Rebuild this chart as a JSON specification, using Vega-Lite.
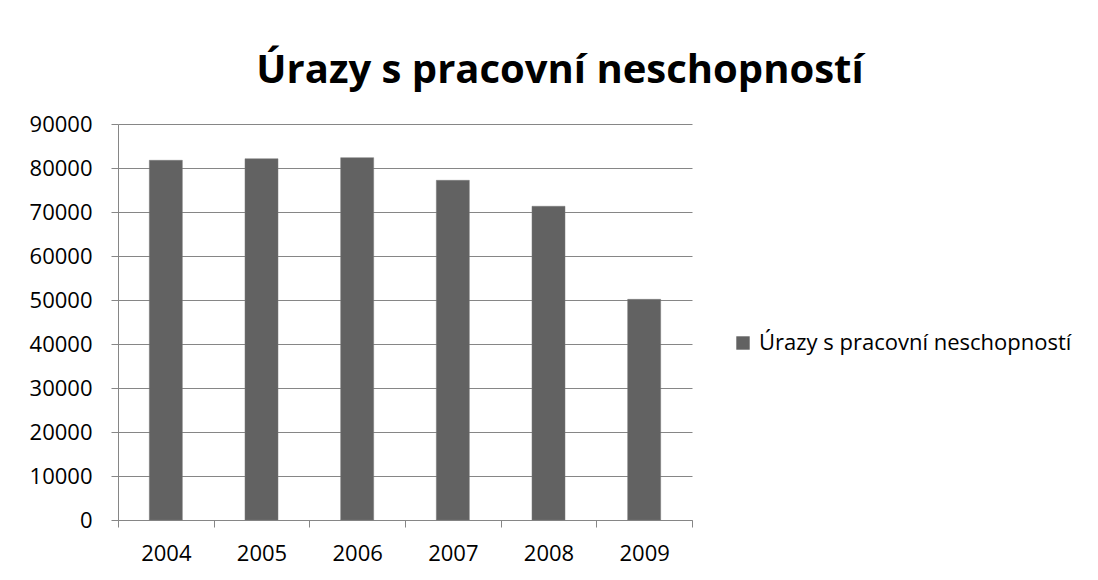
{
  "$schema": "https://vega.github.io/schema/vega-lite/v6.json",
  "autosize": "none",
  "width": 574,
  "height": 396,
  "padding": {"left": 118, "top": 124, "right": 406, "bottom": 60},
  "background": "white",
  "data": {"values": [
    {"rok": "2004", "serie": "Úrazy s pracovní neschopností", "urazy": 81750},
    {"rok": "2005", "serie": "Úrazy s pracovní neschopností", "urazy": 82100},
    {"rok": "2006", "serie": "Úrazy s pracovní neschopností", "urazy": 82350},
    {"rok": "2007", "serie": "Úrazy s pracovní neschopností", "urazy": 77200},
    {"rok": "2008", "serie": "Úrazy s pracovní neschopností", "urazy": 71300},
    {"rok": "2009", "serie": "Úrazy s pracovní neschopností", "urazy": 50150}
  ]},
  "title": {
    "text": "Úrazy s pracovní neschopností",
    "font": "Open Sans",
    "fontSize": 40,
    "fontWeight": "bold",
    "color": "#000000",
    "anchor": "middle",
    "frame": "group",
    "dx": 155,
    "dy": 36,
    "baseline": "alphabetic",
    "offset": 26
  },
  "mark": {"type": "bar", "width": {"band": 0.345}, "color": "#626262", "stroke": "#7a7a7a", "strokeWidth": 0.5},
  "encoding": {
    "x": {
      "field": "rok",
      "type": "nominal",
      "scale": {"paddingInner": 0, "paddingOuter": 0},
      "axis": {
        "title": null,
        "labelAngle": 0,
        "tickBand": "extent",
        "tickSize": 7,
        "labelPadding": 16,
        "labelFont": "Open Sans",
        "labelFontSize": 22,
        "labelColor": "#000000",
        "domainColor": "#868686",
        "tickColor": "#868686",
        "grid": false
      }
    },
    "y": {
      "field": "urazy",
      "type": "quantitative",
      "scale": {"domain": [0, 90000], "nice": false},
      "axis": {
        "title": null,
        "values": [0, 10000, 20000, 30000, 40000, 50000, 60000, 70000, 80000, 90000],
        "format": "d",
        "tickSize": 7,
        "labelPadding": 19,
        "labelFont": "Open Sans",
        "labelFontSize": 22,
        "labelColor": "#000000",
        "domainColor": "#868686",
        "tickColor": "#868686",
        "gridColor": "#868686",
        "gridWidth": 1
      }
    },
    "color": {
      "field": "serie",
      "type": "nominal",
      "scale": {"range": ["#626262"]},
      "legend": {
        "title": null,
        "orient": "none",
        "legendX": 614,
        "legendY": 208,
        "symbolType": "square",
        "symbolSize": 180,
        "symbolStrokeWidth": 0,
        "labelFont": "Open Sans",
        "labelFontSize": 22,
        "labelLimit": 0,
        "labelColor": "#000000",
        "labelOffset": 5
      }
    }
  },
  "config": {
    "view": {"stroke": null},
    "axis": {"domainWidth": 1, "tickWidth": 1}
  }
}
